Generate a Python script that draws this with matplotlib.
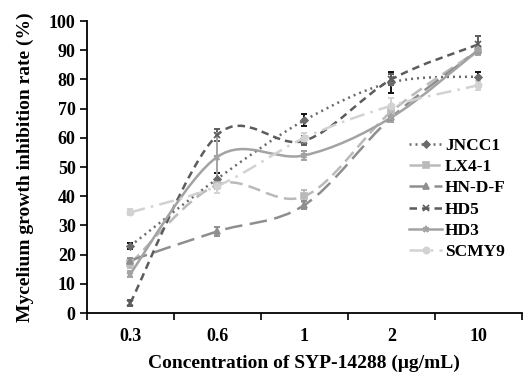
import numpy as np
import matplotlib

matplotlib.use("Agg")
import matplotlib.pyplot as plt
from matplotlib.path import Path
from matplotlib.patches import PathPatch
from matplotlib.lines import Line2D

plt.rcParams["font.family"] = ["Liberation Serif", "DejaVu Serif"]
plt.rcParams["font.weight"] = "bold"

# ── Data ────────────────────────────────────────────────────────────
conc_labels = ["0.3", "0.6", "1", "2", "10"]
strains = ["JNCC1", "LX4-1", "HN-D-F", "HD5", "HD3", "SCMY9"]

jncc1 = [23, 46, 66, 79, 81]
lx4_1 = [17, 44, 40, 69, 90]
hn_d_f = [18, 28, 37, 67, 90]
hd5 = [3.5, 61, 59, 80, 92]
hd3 = [13.5, 53.5, 54, 67, 90]
scmy9 = [34.5, 43.5, 60, 71, 78]

jncc1_err = [1, 2, 2, 3.5, 1.5]
lx4_1_err = [1.5, 1.5, 2, 2, 1.5]
hn_d_f_err = [1, 1.5, 1.5, 1.5, 1.5]
hd5_err = [1, 2, 1.5, 2, 3]
hd3_err = [1, 8, 1.5, 1.5, 1.5]
scmy9_err = [1, 2.5, 1.5, 2.5, 1.5]

values = [jncc1, lx4_1, hn_d_f, hd5, hd3, scmy9]
errors = [jncc1_err, lx4_1_err, hn_d_f_err, hd5_err, hd3_err, scmy9_err]

# ── Styles ──────────────────────────────────────────────────────────
colors = ["#6b6b6b", "#bababa", "#8e8e8e", "#5c5c5c", "#a3a3a3", "#d2d2d2"]
err_colors = ["#111111", "#bababa", "#8e8e8e", "#5c5c5c", "#a3a3a3", "#d2d2d2"]
styles = [(0, (0.8, 1.6)), (0, (5, 2.5)), (0, (7, 3)), (0, (3, 2)), "-", (0, (6, 2.5, 1, 2.5))]
markers = ["D", "s", "^", "x", "*", "o"]
msizes = [3.5, 4, 4.5, 4.5, 5, 4.5]


def smooth_path(xs, ys):
    """Excel-style smoothed line: cubic Bezier through the points."""
    pts = np.column_stack([xs, ys]).astype(float)
    verts = [pts[0]]
    codes = [Path.MOVETO]
    n = len(pts)
    for i in range(n - 1):
        p0 = pts[i - 1] if i > 0 else pts[i]
        p1, p2 = pts[i], pts[i + 1]
        p3 = pts[i + 2] if i + 2 < n else pts[i + 1]
        c1 = p1 + (p2 - p0) / 6
        c2 = p2 - (p3 - p1) / 6
        verts += [c1, c2, p2]
        codes += [Path.CURVE4] * 3
    return Path(verts, codes)


fig = plt.figure(figsize=(5.23, 3.75), dpi=100)
ax = fig.add_axes([0.166, 0.165, 0.832, 0.779])

x = np.arange(len(conc_labels))
handles = []
for vals, err, col, ecol, ls, mk, ms, name in zip(
        values, errors, colors, err_colors, styles, markers, msizes, strains):
    ax.add_patch(PathPatch(smooth_path(x, vals), facecolor="none",
                           edgecolor=col, lw=1.8, linestyle=ls, zorder=2))
    ax.errorbar(x, vals, yerr=err, fmt="none", ecolor=ecol, elinewidth=1.4,
                capsize=2.5, capthick=1.4, zorder=3)
    ax.plot(x, vals, linestyle="none", marker=mk, markersize=ms, color=col,
            markeredgecolor=col, markeredgewidth=1.2, zorder=4)
    handles.append(Line2D([], [], color=col, lw=1.8, linestyle=ls, marker=mk,
                          markersize=ms, markeredgewidth=1.2, label=name))

ax.set_xlim(-0.5, len(conc_labels) - 0.5)
ax.set_ylim(0, 100)
ax.set_yticks(range(0, 101, 10))
ax.set_xticks(x)
ax.set_xticklabels(conc_labels)
ax.set_xticks(np.arange(-0.5, len(conc_labels), 1), minor=True)
ax.tick_params(axis="x", which="major", length=0, pad=11, labelsize=13)
ax.tick_params(axis="x", which="minor", length=5, width=1.2, direction="out")
ax.tick_params(axis="y", length=5, width=1.2, direction="out", pad=3, labelsize=13)

for side in ["top", "right"]:
    ax.spines[side].set_visible(False)
for side in ["left", "bottom"]:
    ax.spines[side].set_linewidth(1.3)

ax.set_xlabel("Concentration of SYP-14288 (μg/mL)", fontsize=14, fontweight="bold", labelpad=7)
ax.set_ylabel("Mycelium growth inhibition rate (%)", fontsize=14, fontweight="bold", labelpad=11)

ax.legend(handles=handles, loc="upper left", bbox_to_anchor=(0.725, 0.625), frameon=False,
          fontsize=12.5, handlelength=1.9, handletextpad=0.15, labelspacing=0.3,
          borderaxespad=0)

fig.savefig("out.png", dpi=100)
